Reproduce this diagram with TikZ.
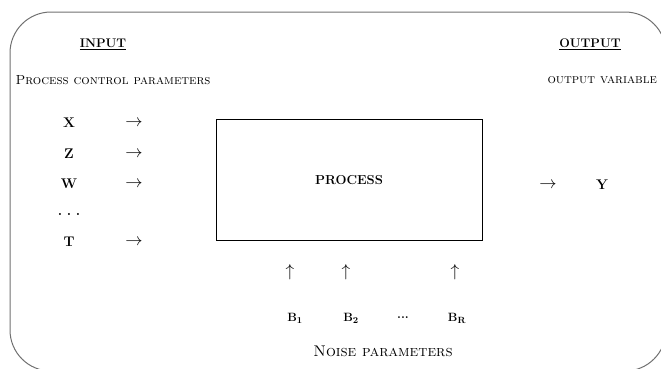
\documentclass[tikz,border=0pt]{standalone}
\usepackage{tikz}
\usetikzlibrary{positioning}
\definecolor{framegray}{RGB}{112,112,112}

\begin{document}
\begin{tikzpicture}[x=1pt, y=-1pt,
    head/.style={font=\fontsize{12.5}{14}\selectfont\bfseries},
    capline/.style={font=\fontsize{13.2}{15}\selectfont\scshape},
    var/.style={font=\fontsize{14}{16}\selectfont\bfseries},
    arr/.style={font=\fontsize{16}{18}\selectfont},
    noise/.style={font=\fontsize{12.5}{14}\selectfont\bfseries},
    box/.style={rectangle, draw=black, line width=0.8pt, minimum width=266pt,
                minimum height=121pt, font=\fontsize{13}{15}\selectfont\bfseries}]
\useasboundingbox (0,0) rectangle (661,368);
\draw[framegray, line width=1pt, rounded corners=41pt] (10,12) rectangle (666,371);
% headings
\node[head] (input) at (103,44) {\underline{INPUT}};
\node[head] (output) at (590,44) {\underline{OUTPUT}};
\node[capline, anchor=west] (pcp) at (12,80) {Process control parameters};
\node[capline, anchor=west] (ovar) at (544,80) {output variable};
% inputs
\foreach \v/\ypos in {X/123, Z/154, W/184, T/242} {
    \node[var] (in\v) at (69,\ypos) {\v};
    \node[arr] (a\v) at (134,\ypos) {$\rightarrow$};
}
\node[var] (indots) at (69,214) {.\,\,.\,\,.};
% process
\node[box] (proc) at (349,180) {PROCESS};
\node[arr] (aY) at (548,185) {$\rightarrow$};
\node[var] (outY) at (602,185) {Y};
% noise
\foreach \n/\lbl/\xpos in {1/1/295, 2/2/351, 3/R/457} {
    \node[noise] (b\n) at (\xpos,318) {$\mathbf{B}_{\mathbf{\lbl}}$};
}
\node[noise] (bdots) at (403,318) {...};
\foreach \n/\xpos in {1/290, 2/346, 3/455}
    \node[arr] (u\n) at (\xpos,272) {$\uparrow$};
\node[capline, font=\fontsize{15.5}{17}\selectfont\scshape] (noisep) at (383,351) {Noise parameters};
\end{tikzpicture}
\end{document}
